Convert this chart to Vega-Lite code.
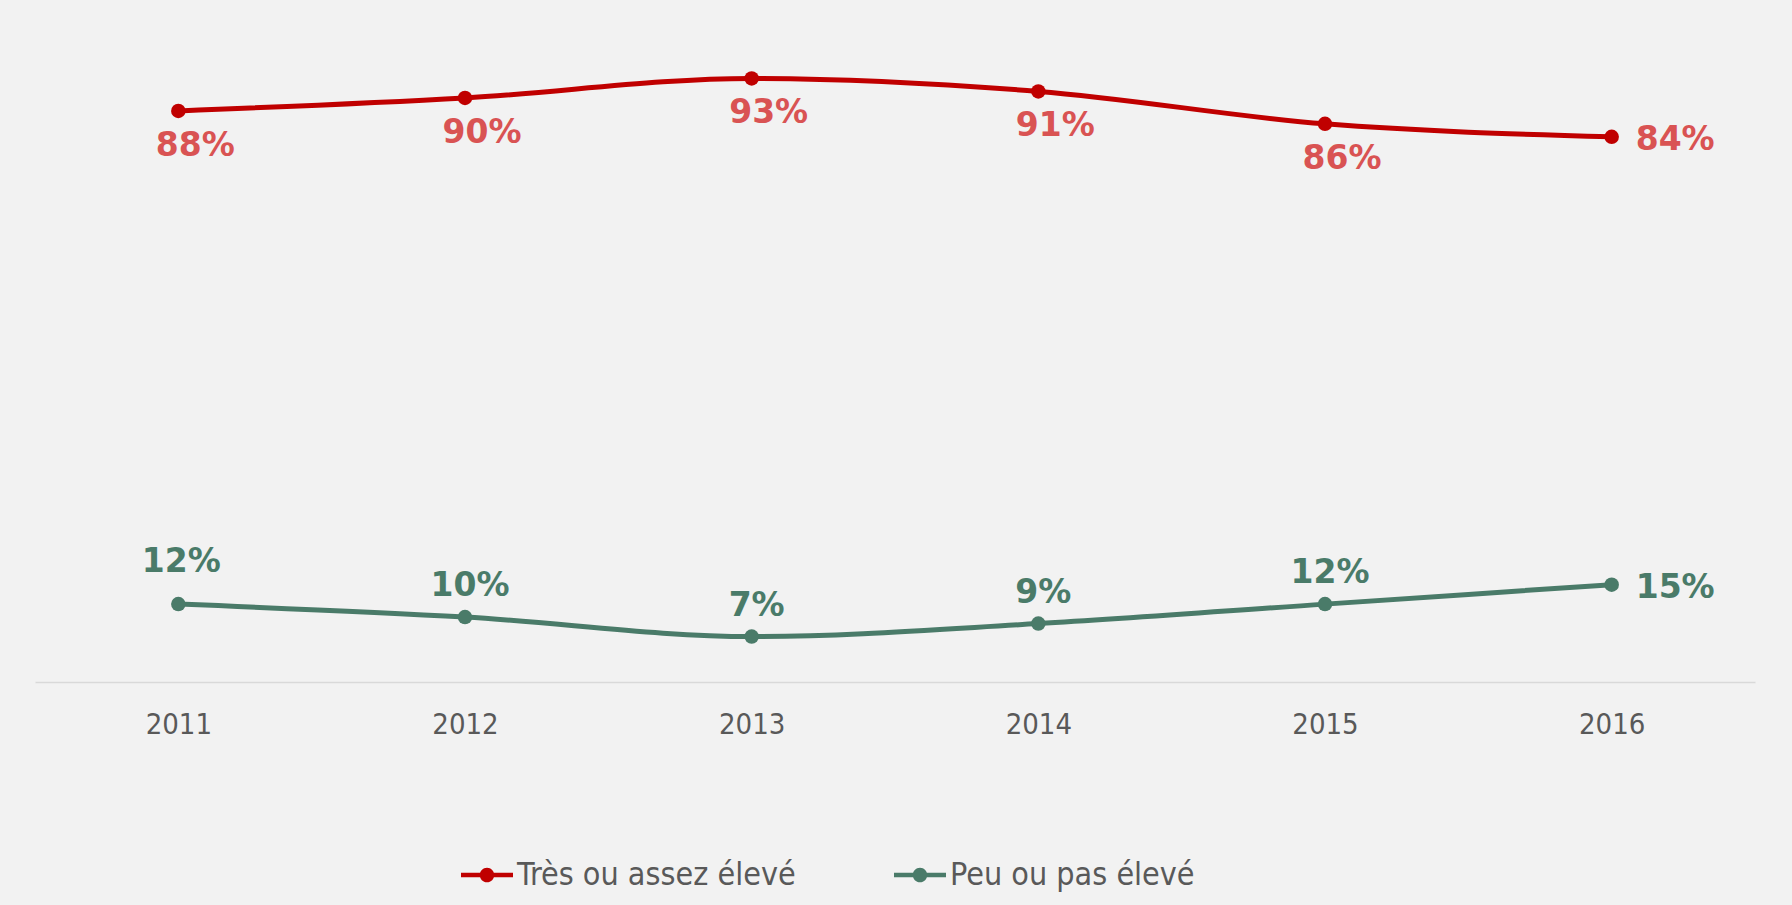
{
  "$schema": "https://vega.github.io/schema/vega-lite/v6.json",
  "width": 1720,
  "height": 649,
  "autosize": {"type": "none"},
  "padding": {"left": 35, "top": 33, "right": 37, "bottom": 223},
  "background": "#f2f2f2",
  "config": {"view": {"stroke": null}},
  "data": {
    "values": [
      {"serie": "Très ou assez élevé", "annee": "2011", "valeur": 0.88},
      {"serie": "Très ou assez élevé", "annee": "2012", "valeur": 0.90},
      {"serie": "Très ou assez élevé", "annee": "2013", "valeur": 0.93},
      {"serie": "Très ou assez élevé", "annee": "2014", "valeur": 0.91},
      {"serie": "Très ou assez élevé", "annee": "2015", "valeur": 0.86},
      {"serie": "Très ou assez élevé", "annee": "2016", "valeur": 0.84},
      {"serie": "Peu ou pas élevé", "annee": "2011", "valeur": 0.12},
      {"serie": "Peu ou pas élevé", "annee": "2012", "valeur": 0.10},
      {"serie": "Peu ou pas élevé", "annee": "2013", "valeur": 0.07},
      {"serie": "Peu ou pas élevé", "annee": "2014", "valeur": 0.09},
      {"serie": "Peu ou pas élevé", "annee": "2015", "valeur": 0.12},
      {"serie": "Peu ou pas élevé", "annee": "2016", "valeur": 0.15}
    ]
  },
  "encoding": {
    "x": {
      "field": "annee", "type": "ordinal",
      "scale": {"type": "point", "padding": 0.5},
      "axis": {
        "title": null, "labelAngle": 0, "ticks": false, "grid": false,
        "domainColor": "#d9d9d9", "domainWidth": 1.5,
        "labelFont": "DejaVu Sans Condensed", "labelFontSize": 29,
        "labelColor": "#595959", "labelPadding": 28
      }
    },
    "y": {
      "field": "valeur", "type": "quantitative",
      "scale": {"domain": [0, 1], "nice": false, "zero": true},
      "axis": null
    }
  },
  "layer": [
    {
      "mark": {"type": "line", "interpolate": "monotone", "strokeWidth": 5},
      "encoding": {
        "color": {
          "field": "serie", "type": "nominal",
          "scale": {"domain": ["Très ou assez élevé", "Peu ou pas élevé"], "range": ["#c00000", "#4a7b69"]},
          "legend": {
            "title": null, "orient": "none", "direction": "horizontal",
            "legendX": 426, "legendY": 816, "padding": 0,
            "symbolType": "M-1,-0.09H-0.2V0.09H-1Z M0.2,-0.09H1V0.09H0.2Z M-0.28,0A0.28,0.28,0,1,1,0.28,0A0.28,0.28,0,1,1,-0.28,0Z",
            "symbolSize": 2704, "symbolStrokeWidth": 0,
            "labelFont": "DejaVu Sans Condensed", "labelFontSize": 32,
            "labelColor": "#595959", "labelOffset": 4, "columnPadding": 98,
            "labelLimit": 400,
            "encode": {"symbols": {"update": {"fill": {"scale": "color", "field": "value"}, "strokeWidth": {"value": 0}, "opacity": {"value": 1}}}}
          }
        }
      }
    },
    {
      "mark": {"type": "point", "filled": true, "size": 210, "opacity": 1},
      "encoding": {
        "color": {"field": "serie", "type": "nominal", "legend": null}
      }
    },
    {
      "transform": [{"filter": "datum.serie == 'Très ou assez élevé' && datum.annee != '2016'"}],
      "mark": {"type": "text", "font": "DejaVu Sans", "fontWeight": "bold", "fontSize": 33, "color": "#d95353", "dx": 17, "dy": 35, "baseline": "middle", "align": "center"},
      "encoding": {"text": {"field": "valeur", "type": "quantitative", "format": ".0%"}}
    },
    {
      "transform": [{"filter": "datum.annee == '2016'"}],
      "mark": {"type": "text", "font": "DejaVu Sans", "fontWeight": "bold", "fontSize": 33, "dx": 24, "dy": 3, "baseline": "middle", "align": "left"},
      "encoding": {
        "text": {"field": "valeur", "type": "quantitative", "format": ".0%"},
        "color": {"condition": {"test": "datum.serie == 'Très ou assez élevé'", "value": "#d95353"}, "value": "#4a7b69"}
      }
    },
    {
      "transform": [{"filter": "datum.serie == 'Peu ou pas élevé' && datum.annee != '2016' && datum.annee != '2011'"}],
      "mark": {"type": "text", "font": "DejaVu Sans", "fontWeight": "bold", "fontSize": 33, "color": "#4a7b69", "dx": 5, "dy": -31, "baseline": "middle", "align": "center"},
      "encoding": {"text": {"field": "valeur", "type": "quantitative", "format": ".0%"}}
    },
    {
      "transform": [{"filter": "datum.serie == 'Peu ou pas élevé' && datum.annee == '2011'"}],
      "mark": {"type": "text", "font": "DejaVu Sans", "fontWeight": "bold", "fontSize": 33, "color": "#4a7b69", "dx": 3, "dy": -42, "baseline": "middle", "align": "center"},
      "encoding": {"text": {"field": "valeur", "type": "quantitative", "format": ".0%"}}
    }
  ]
}
